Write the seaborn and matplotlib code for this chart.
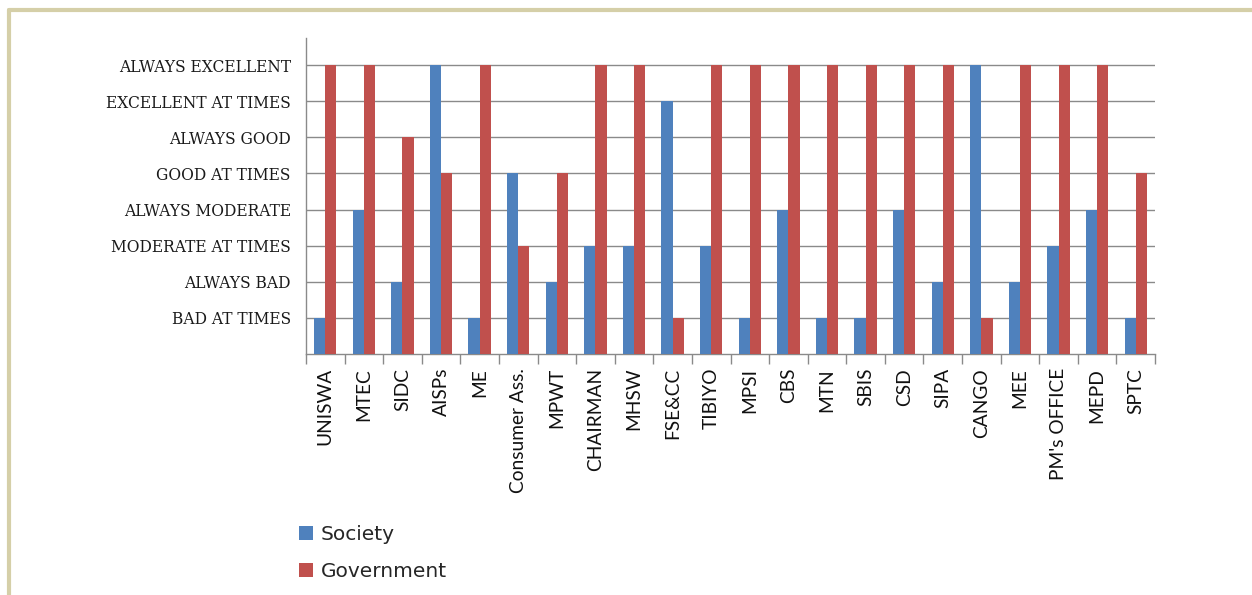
import matplotlib
matplotlib.use("Agg")
import matplotlib.pyplot as plt
import seaborn as sns
import pandas as pd
from matplotlib.patches import Patch
from matplotlib.lines import Line2D
from matplotlib.ticker import FixedLocator

categories = ["UNISWA", "MTEC", "SIDC", "AISPs", "ME", "Consumer Ass.", "MPWT",
              "CHAIRMAN", "MHSW", "FSE&CC", "TIBIYO", "MPSI", "CBS", "MTN", "SBIS",
              "CSD", "SIPA", "CANGO", "MEE", "PM's OFFICE", "MEPD", "SPTC"]
society = [1, 4, 2, 8, 1, 5, 2, 3, 3, 7, 3, 1, 4, 1, 1, 4, 2, 8, 2, 3, 4, 1]
government = [8, 8, 6, 5, 8, 3, 5, 8, 8, 1, 8, 8, 8, 8, 8, 8, 8, 1, 8, 8, 8, 5]
level_labels = ["BAD AT TIMES", "ALWAYS BAD", "MODERATE AT TIMES", "ALWAYS MODERATE",
                "GOOD AT TIMES", "ALWAYS GOOD", "EXCELLENT AT TIMES", "ALWAYS EXCELLENT"]
series_names = ["Society", "Government"]

df = pd.DataFrame({
    "Organisation": categories * 2,
    "Rating": society + government,
    "Series": [series_names[0]] * len(categories) + [series_names[1]] * len(categories),
})

sns.set_style("white")
colors = {"Society": "#4f81bd", "Government": "#c0504d"}

fig = plt.figure(figsize=(12.52, 5.95), dpi=100)
ax = fig.add_axes([306 / 1252, 1 - 354 / 595, (1155 - 306) / 1252, (354 - 38) / 595])

sns.barplot(data=df, x="Organisation", y="Rating", hue="Series", palette=colors,
            order=categories, hue_order=series_names, width=0.58, ax=ax,
            errorbar=None, legend=False, saturation=1, linewidth=0, zorder=3)

ax.set_xlim(-0.5, len(categories) - 0.5)
ax.set_ylim(0, 8.75)
ax.set_xlabel("")
ax.set_ylabel("")

# y axis: gridlines + labels
ax.set_yticks(range(1, 9))
ax.set_yticklabels(level_labels, fontfamily="DejaVu Serif", fontsize=11.2, color="#1a1a1a")
ax.yaxis.grid(True, color="#8a8a8a", linewidth=1.0, zorder=0)
ax.tick_params(axis="y", length=7, color="#8a8a8a", width=1.0, pad=4)

# x axis labels
ax.set_xticks(range(len(categories)))
ax.set_xticklabels(categories, rotation=90, fontfamily="Lato", fontsize=13.8, color="#111111")
ax.tick_params(axis="x", which="major", length=0, pad=10)
ax.xaxis.set_minor_locator(FixedLocator([i - 0.5 for i in range(len(categories) + 1)]))
ax.tick_params(axis="x", which="minor", length=7, color="#8a8a8a", width=1.0, bottom=True)

for s in ["top", "right"]:
    ax.spines[s].set_visible(False)
for s in ["left", "bottom"]:
    ax.spines[s].set_color("#8a8a8a")
    ax.spines[s].set_linewidth(1.0)

# legend
handles = [Patch(facecolor=colors[n], edgecolor="none") for n in series_names]
fig.legend(handles, series_names, loc="upper left", bbox_to_anchor=(281 / 1252, 1 - 507 / 595),
           frameon=False, prop={"family": "DejaVu Sans", "size": 14.5}, handlelength=0.68,
           handleheight=0.68, handletextpad=0.4, labelspacing=0.9)

# outer frame (left and top)
fig.add_artist(Line2D([9 / 1252, 9 / 1252], [0, 1 - 10 / 595], transform=fig.transFigure,
                      color="#d5cfa8", linewidth=3))
fig.add_artist(Line2D([9 / 1252, 1], [1 - 10 / 595, 1 - 10 / 595], transform=fig.transFigure,
                      color="#d5cfa8", linewidth=3))

fig.savefig("out.png", dpi=100, facecolor="white")
